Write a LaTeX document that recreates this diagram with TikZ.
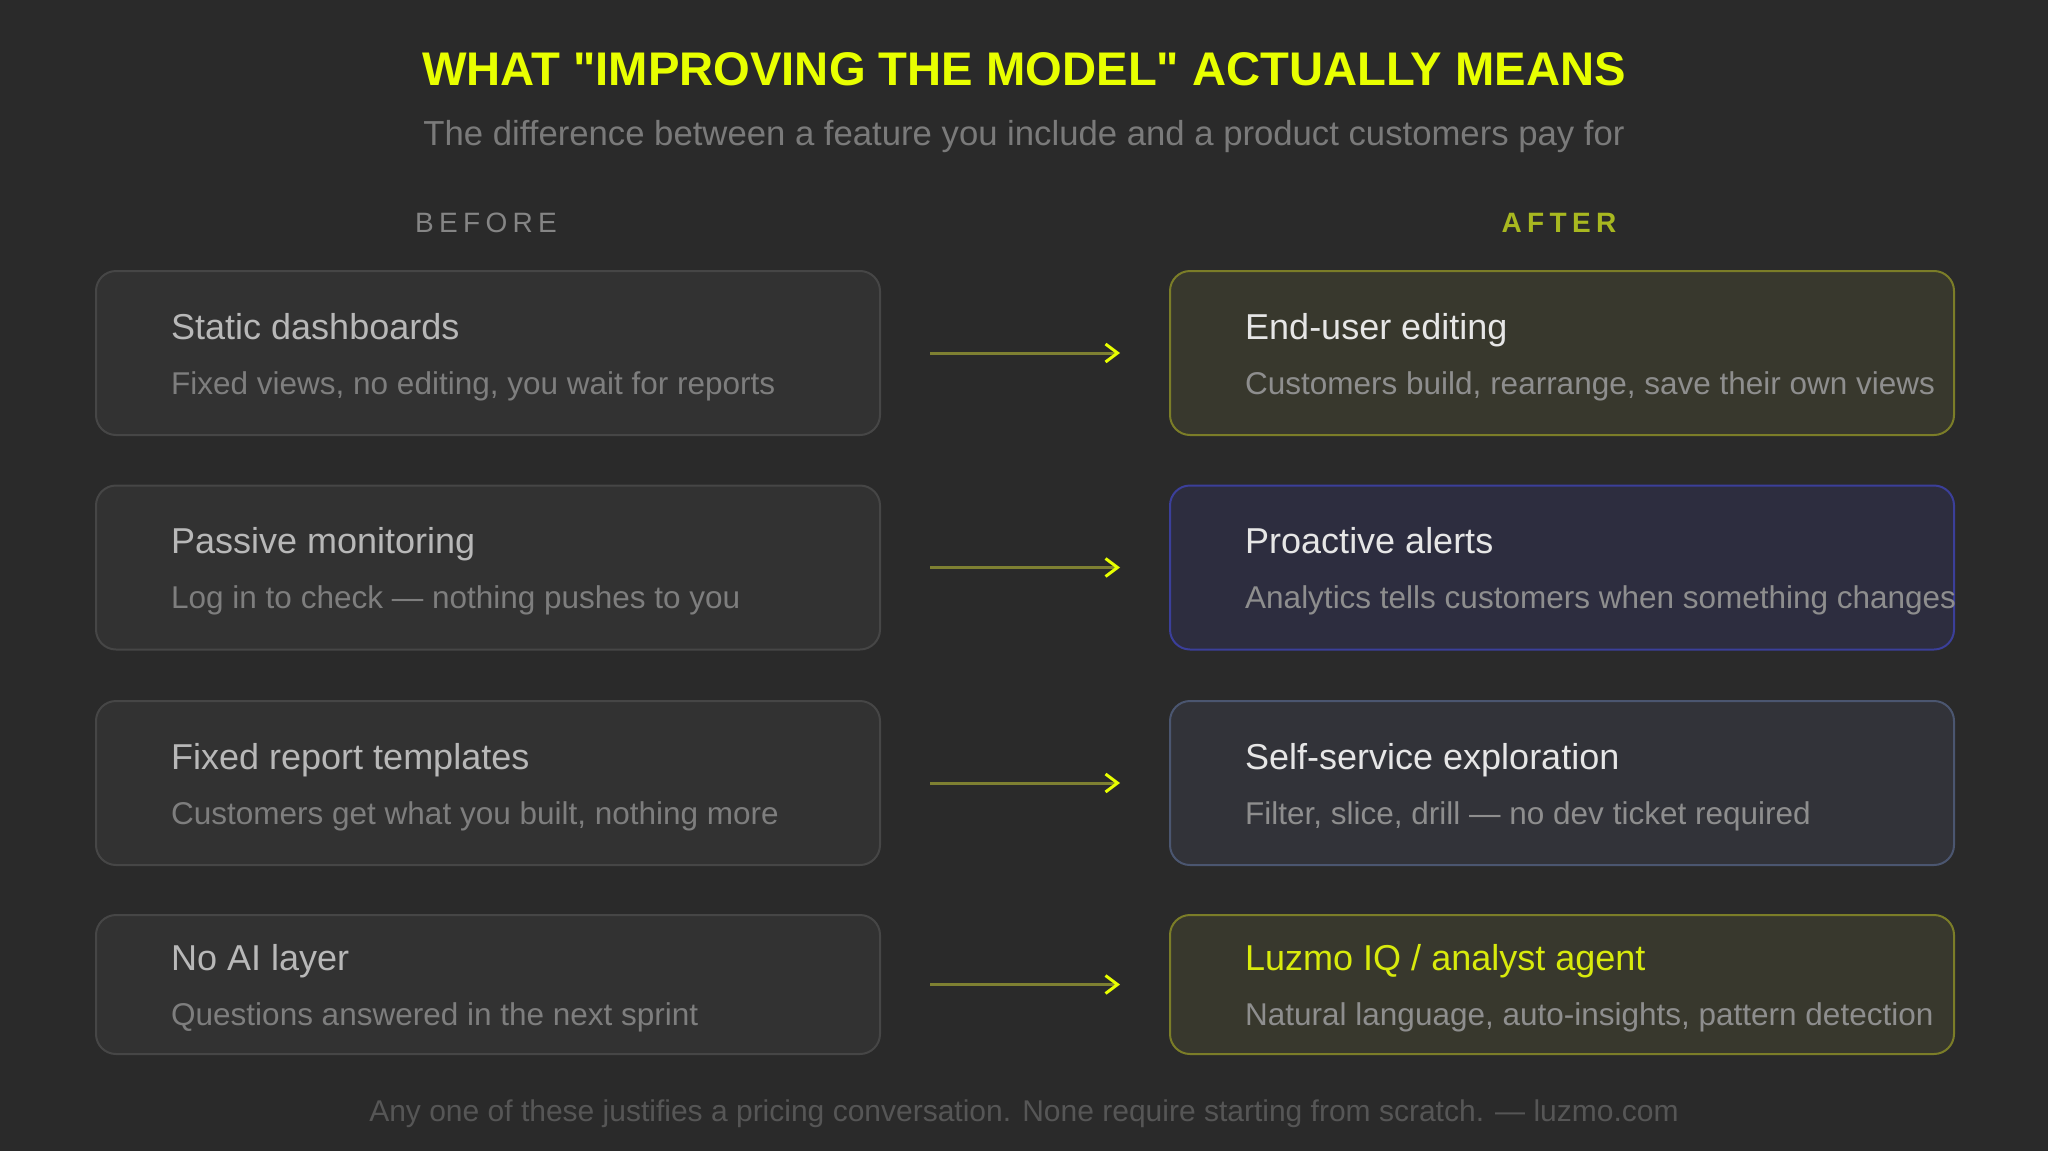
\documentclass[tikz,border=0pt]{standalone}
\usepackage{fontspec}
\setmainfont{Liberation Sans}
\newfontfamily\capsfont[LetterSpace=19]{Liberation Sans}
\newfontfamily\titlefont{Liberation Sans}
\usetikzlibrary{arrows.meta,calc}
\definecolor{bg}{HTML}{2A2A2A}
\definecolor{ttlyellow}{HTML}{E8FF00}
\definecolor{subgray}{HTML}{7A7A7A}
\definecolor{beforegray}{HTML}{858585}
\definecolor{aftergreen}{HTML}{A8B820}
\definecolor{lfill}{HTML}{323232}
\definecolor{lborder}{HTML}{464646}
\definecolor{ofill}{HTML}{38382D}
\definecolor{oborder}{HTML}{7B7D28}
\definecolor{bfill}{HTML}{2D2D3F}
\definecolor{bborder}{HTML}{3B3F9A}
\definecolor{sfill}{HTML}{323339}
\definecolor{sborder}{HTML}{4B5670}
\definecolor{ltitle}{HTML}{B8B8B8}
\definecolor{lsub}{HTML}{7E7E7E}
\definecolor{rtitle}{HTML}{E6E6E6}
\definecolor{rsub}{HTML}{8E8E8E}
\definecolor{luzmo}{HTML}{D8EA0C}
\definecolor{arrline}{HTML}{7E8032}
\definecolor{arrhead}{HTML}{E8FF00}
\definecolor{footgray}{HTML}{565656}
\tikzset{
  card/.style={rectangle, rounded corners=20pt, line width=2pt, minimum width=784pt, anchor=north west, inner sep=0pt},
  leftcard/.style={card, fill=lfill, draw=lborder},
  olivecard/.style={card, fill=ofill, draw=oborder},
  bluecard/.style={card, fill=bfill, draw=bborder},
  slatecard/.style={card, fill=sfill, draw=sborder},
  ctitle/.style={anchor=base west, inner sep=0pt, font=\fontsize{36}{43}\selectfont},
  csub/.style={anchor=base west, inner sep=0pt, font=\fontsize{31.5}{38}\selectfont},
  conn/.style={draw=arrline, line width=3pt, shorten <=49pt, shorten >=49pt,
    -{Straight Barb[length=12pt, width=18pt, line width=3pt, color=arrhead]}},
}
\begin{document}
\begin{tikzpicture}[x=1pt,y=-1pt]
\fill[bg] (0,0) rectangle (2048,1151);
\useasboundingbox (0,0) rectangle (2048,1151);

\node[anchor=base, inner sep=0pt, text=ttlyellow, font=\fontsize{47.2}{56}\titlefont\bfseries] (title) at (1024,85) {WHAT "IMPROVING THE MODEL" ACTUALLY MEANS};
\node[anchor=base, inner sep=0pt, text=subgray, font=\fontsize{34.7}{41}\selectfont] (subtitle) at (1024,145) {The difference between a feature you include and a product customers pay for};

\node[anchor=base, inner sep=0pt, text=beforegray, font=\fontsize{28}{34}\capsfont] (before) at (486,232) {BEFORE};
\node[anchor=base, inner sep=0pt, text=aftergreen, font=\fontsize{28}{34}\capsfont\bfseries] (after) at (1559,232) {AFTER};

% left cards
\node[leftcard, minimum height=164pt] (L1) at (95,270) {};
\node[leftcard, minimum height=164pt] (L2) at (95,484.5) {};
\node[leftcard, minimum height=164pt] (L3) at (95,700) {};
\node[leftcard, minimum height=139pt] (L4) at (95,914) {};
% right cards
\node[olivecard, minimum height=164pt] (R1) at (1169,270) {};
\node[bluecard, minimum height=164pt] (R2) at (1169,484.5) {};
\node[slatecard, minimum height=164pt] (R3) at (1169,700) {};
\node[olivecard, minimum height=139pt] (R4) at (1169,914) {};

% left texts
\node[ctitle, text=ltitle] (L1t) at ($(L1.west)+(76,-14)$) {Static dashboards};
\node[csub, text=lsub] (L1s) at ($(L1.west)+(76,41)$) {Fixed views, no editing, you wait for reports};
\node[ctitle, text=ltitle] (L2t) at ($(L2.west)+(76,-14)$) {Passive monitoring};
\node[csub, text=lsub] (L2s) at ($(L2.west)+(76,41)$) {Log in to check — nothing pushes to you};
\node[ctitle, text=ltitle] (L3t) at ($(L3.west)+(76,-14)$) {Fixed report templates};
\node[csub, text=lsub] (L3s) at ($(L3.west)+(76,41)$) {Customers get what you built, nothing more};
\node[ctitle, text=ltitle] (L4t) at ($(L4.west)+(76,-14)$) {No AI layer};
\node[csub, text=lsub] (L4s) at ($(L4.west)+(76,41)$) {Questions answered in the next sprint};

% right texts
\node[ctitle, text=rtitle] (R1t) at ($(R1.west)+(76,-14)$) {End-user editing};
\node[csub, text=rsub] (R1s) at ($(R1.west)+(76,41)$) {Customers build, rearrange, save their own views};
\node[ctitle, text=rtitle] (R2t) at ($(R2.west)+(76,-14)$) {Proactive alerts};
\node[csub, text=rsub] (R2s) at ($(R2.west)+(76,41)$) {Analytics tells customers when something changes};
\node[ctitle, text=rtitle] (R3t) at ($(R3.west)+(76,-14)$) {Self-service exploration};
\node[csub, text=rsub] (R3s) at ($(R3.west)+(76,41)$) {Filter, slice, drill — no dev ticket required};
\node[ctitle, text=luzmo] (R4t) at ($(R4.west)+(76,-14)$) {Luzmo IQ / analyst agent};
\node[csub, text=rsub] (R4s) at ($(R4.west)+(76,41)$) {Natural language, auto-insights, pattern detection};

% connectors
\draw[conn] (L1) -- (R1);
\draw[conn] (L2) -- (R2);
\draw[conn] (L3) -- (R3);
\draw[conn] (L4) -- (R4);

\node[anchor=base, inner sep=0pt, text=footgray, font=\fontsize{30}{36}\selectfont] (footer) at (1024,1121) {Any one of these justifies a pricing conversation. None require starting from scratch. — luzmo.com};
\end{tikzpicture}
\end{document}
